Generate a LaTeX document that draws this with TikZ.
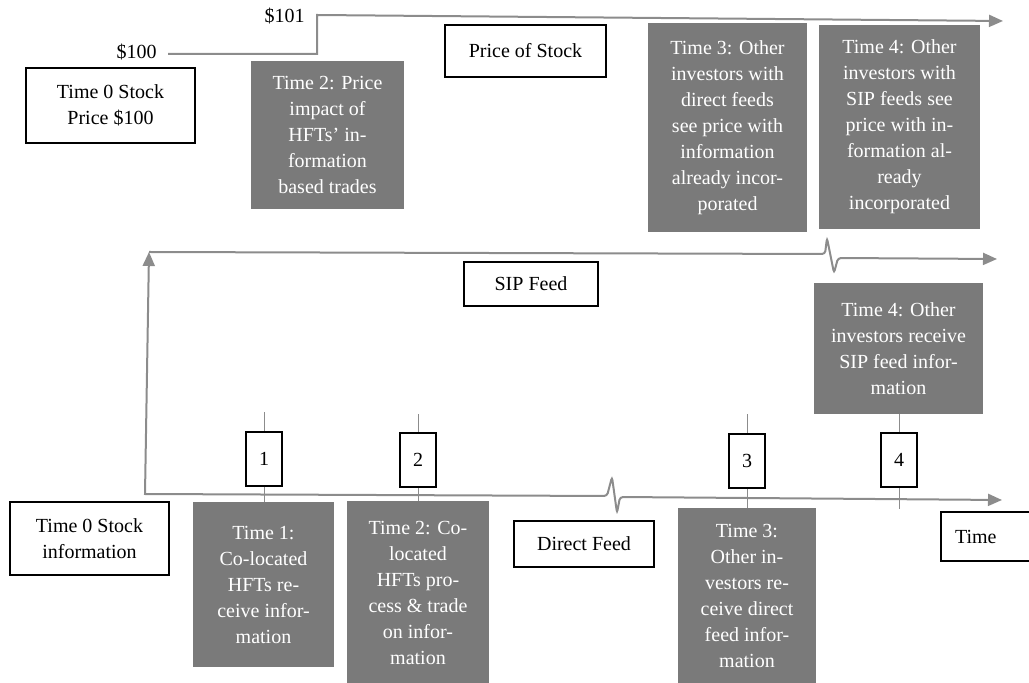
\documentclass[tikz,border=0pt]{standalone}
\usepackage{fontspec}
\setmainfont{Liberation Serif}
\usetikzlibrary{arrows.meta}
\definecolor{linegrey}{RGB}{140,140,140}
\definecolor{boxgrey}{RGB}{122,122,122}

\begin{document}
\begin{tikzpicture}[
			     x=0.5pt, y=-0.5pt,
			     font=\fontsize{10}{13}\selectfont,
			     grey box/.style={fill=boxgrey, text=white, align=center, inner sep=0pt},
			     label box/.style={draw, line width=1pt, align=center, inner sep=0pt},
			     num box/.style={draw, line width=1pt, minimum width=18pt, minimum height=27pt, inner sep=0pt},
			     time line/.style={draw=linegrey, line width=1pt},
			     time arrow/.style={time line, -{Triangle[length=7pt,width=6pt]}},
			     tick line/.style={draw=linegrey, line width=0.5pt}
			     ]
\useasboundingbox (0,0) rectangle (1029,683);
%
% price of stock
\coordinate (p0) at (168,54);
\coordinate (p1) at (317,54);
\coordinate (p2) at (317,15);
\coordinate (p3) at (1003,21);
\draw[time arrow] (p0) -- (p1) -- (p2) -- (p3);
\node[anchor=east, inner sep=0pt] (l100) at (157,52) {\$100};
\node[anchor=east, inner sep=0pt] (l101) at (305,16) {\$101};
\node[label box, minimum width=84.5pt, minimum height=37.5pt] (price0) at (110.5,105.5) {Time 0 Stock\\Price \$100};
\node[label box, minimum width=80.5pt, minimum height=26pt] (pstock) at (525.5,51) {Price of Stock};
\node[grey box, minimum width=76.5pt, minimum height=74pt] (t2price) at (327.5,135) {Time 2: Price\\impact of\\HFTs' in-\\formation\\based trades};
\node[grey box, minimum width=79.5pt, minimum height=104.5pt] (t3price) at (727.5,127.5) {Time 3: Other\\investors with\\direct feeds\\see price with\\information\\already incor-\\porated};
\node[grey box, minimum width=80.5pt, minimum height=102pt] (t4price) at (899.5,127) {Time 4: Other\\investors with\\SIP feeds see\\price with in-\\formation al-\\ready\\incorporated};
%
% SIP feed
\coordinate (s0) at (145,494);
\coordinate (s1) at (149,252);
\coordinate (s2) at (825,254);
\coordinate (s3) at (838,258);
\coordinate (s4) at (997,259);
\draw[time arrow] (s0) -- (s1);
\draw[time arrow, rounded corners=1.5pt] (s1) -- (s2) -- (827,238) -- (834,273) -- (s3) -- (s4);
\node[label box, minimum width=67pt, minimum height=22pt] (sipfeed) at (531,284) {SIP Feed};
\node[grey box, minimum width=84.5pt, minimum height=65.5pt] (t4sip) at (898.5,348.5) {Time 4: Other\\investors receive\\SIP feed infor-\\mation};
%
% direct feed
\coordinate (d0) at (144,494);
\coordinate (d1) at (607,496);
\coordinate (d2) at (620,497);
\coordinate (d3) at (1002,500);
\draw[time arrow, rounded corners=1.5pt] (d0) -- (d1) -- (612,477) -- (617,513) -- (d2) -- (d3);
\node[label box, minimum width=79.5pt, minimum height=36.5pt] (t0info) at (89.5,538.5) {Time 0 Stock\\information};
\node[label box, minimum width=70pt, minimum height=23pt] (directfeed) at (584,544) {Direct Feed};
\node[label box, anchor=west, text width=40pt, align=left, inner xsep=7pt, minimum height=24.5pt] (timebox) at (940,536.5) {Time};
\node[grey box, minimum width=70.5pt, minimum height=82.5pt] (t1) at (263.5,584.5) {Time 1:\\Co-located\\HFTs re-\\ceive infor-\\mation};
\node[grey box, minimum width=71pt, minimum height=91.5pt] (t2) at (418,592.5) {Time 2: Co-\\located\\HFTs pro-\\cess \& trade\\on infor-\\mation};
\node[grey box, minimum width=69pt, minimum height=88pt] (t3) at (747,596) {Time 3:\\Other in-\\vestors re-\\ceive direct\\feed infor-\\mation};
%
% time steps
\foreach \n/\x/\y in {1/264/459, 2/418/460, 3/747/461, 4/899/460}
  \node[num box] (n\n) at (\x,\y) {\n};
\draw[tick line] (n1.north) -- ++(0,-19);
\draw[tick line] (n1.south) -- (n1.south |- t1.north);
\draw[tick line] (n2.north) -- ++(0,-18);
\draw[tick line] (n2.south) -- (n2.south |- t2.north);
\draw[tick line] (n3.north) -- ++(0,-19);
\draw[tick line] (n3.south) -- (n3.south |- t3.north);
\draw[tick line] (n4.north) -- (n4.north |- t4sip.south);
\draw[tick line] (n4.south) -- ++(0,21);
\end{tikzpicture}
\end{document}
